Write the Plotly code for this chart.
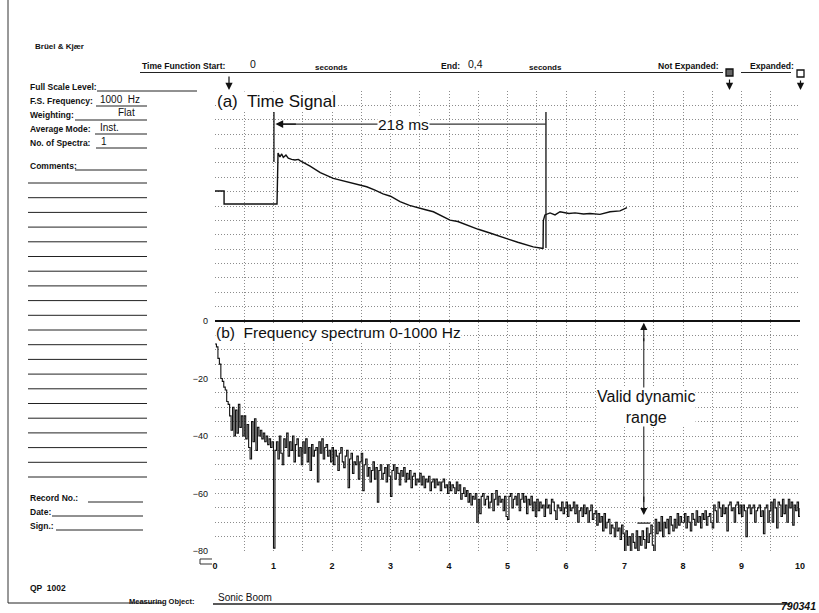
import plotly.graph_objects as go

# ---------------- data ----------------
# (a) time signal: time in seconds (0 .. 0.4 s window), level in chart-grid units
time_s = [0.0, 0.0062, 0.0062, 0.0424, 0.0431, 0.0444, 0.0456, 0.0467, 0.0485, 0.0501,
          0.0524, 0.0547, 0.0570, 0.0581, 0.0650, 0.0720, 0.0809, 0.0860, 0.0923, 0.0980,
          0.1037, 0.1090, 0.1149, 0.1200, 0.1265, 0.1330, 0.1380, 0.1440, 0.1493, 0.1550,
          0.1607, 0.1660, 0.1721, 0.1800, 0.1880, 0.1949, 0.2010, 0.2070, 0.2130, 0.2176,
          0.2234, 0.2243, 0.2245, 0.2256, 0.2291, 0.2325, 0.2359, 0.2420, 0.2462, 0.2520,
          0.2564, 0.2632, 0.2701, 0.2769, 0.2817]
time_level = [45.2, 45.2, 40.7, 40.7, 58.4, 57.1, 58.1, 56.9, 57.7, 56.6,
              56.2, 56.0, 56.2, 55.8, 53.9, 51.6, 49.6, 49.0, 48.3, 47.6,
              46.7, 45.6, 44.2, 43.4, 41.5, 40.2, 39.4, 38.7, 38.0, 36.6,
              35.1, 34.6, 33.4, 31.9, 30.6, 29.3, 28.4, 27.4, 26.5, 25.8,
              25.3, 25.3, 34.9, 36.9, 37.6, 36.9, 38.0, 37.4, 37.6, 37.2,
              37.4, 37.1, 38.0, 38.3, 39.4]

# (b) frequency spectrum 0-1000 Hz, 2.5 Hz bins, level in dB
spectrum_db = [
    -8, -9, -13, -15, -20, -21, -23, -24, -28, -29, -33, -38, -30, -40, -31, -39, -29, -37, -33, -40,
    -33, -41, -36, -44, -48, -35, -42, -34, -45, -37, -40, -38, -41, -39, -42, -40, -43, -41, -44, -42,
    -79, -45, -42, -48, -40, -46, -50, -41, -44, -39, -47, -42, -45, -40, -49, -43, -41, -47, -44, -50,
    -42, -46, -41, -49, -44, -52, -43, -47, -45, -44, -56, -42, -46, -41, -48, -44, -43, -47, -45, -49,
    -44, -50, -45, -47, -52, -46, -44, -49, -51, -47, -45, -58, -48, -46, -53, -49, -50, -47, -55, -49,
    -46, -59, -50, -48, -54, -51, -56, -52, -49, -55, -51, -63, -52, -50, -55, -53, -51, -56, -50, -54,
    -61, -52, -50, -55, -51, -53, -57, -52, -54, -51, -56, -53, -55, -52, -58, -54, -53, -57, -55, -56,
    -53, -57, -54, -58, -55, -56, -54, -59, -56, -55, -58, -55, -57, -56, -59, -56, -55, -58, -57, -60,
    -56, -59, -57, -58, -60, -56, -59, -57, -62, -60, -58, -61, -59, -63, -60, -64, -61, -62, -60, -70,
    -62, -67, -61, -60, -64, -62, -61, -65, -63, -60, -66, -62, -59, -64, -61, -63, -62, -66, -61, -68,
    -69, -61, -60, -65, -62, -61, -64, -60, -66, -62, -60, -63, -61, -67, -62, -64, -61, -66, -63, -68,
    -62, -66, -63, -65, -64, -68, -62, -65, -64, -67, -62, -63, -66, -69, -64, -65, -66, -63, -67, -65,
    -63, -68, -64, -66, -65, -63, -67, -64, -70, -66, -65, -68, -64, -67, -65, -70, -66, -64, -69, -67,
    -66, -71, -67, -70, -68, -73, -67, -72, -70, -69, -74, -71, -72, -75, -70, -73, -72, -76, -71, -74,
    -87, -73, -78, -75, -81, -74, -77, -79, -73, -80, -75, -78, -73, -76, -79, -72, -77, -74, -71, -78,
    -82, -69, -74, -70, -73, -68, -75, -70, -72, -69, -74, -68, -71, -73, -69, -72, -67, -71, -68, -70,
    -70, -67, -72, -68, -70, -73, -67, -69, -71, -66, -70, -68, -72, -67, -69, -66, -71, -68, -67, -70,
    -72, -64, -66, -70, -63, -65, -68, -64, -67, -65, -73, -64, -63, -66, -65, -70, -64, -63, -67, -64,
    -68, -64, -66, -75, -65, -64, -67, -65, -64, -70, -66, -65, -64, -68, -66, -74, -65, -64, -70, -66,
    -63, -70, -62, -65, -72, -63, -64, -68, -62, -67, -64, -70, -62, -65, -63, -71, -64, -66, -63, -68,
    -65]
bin_hz = 2.5
spectrum_hz = [i * bin_hz for i in range(len(spectrum_db))]

x_tick_labels = ["0", "1", "2", "3", "4", "5", "6", "7", "8", "9", "10"]
y_tick_labels = {0: "0", -20: "\u221220", -40: "\u221240", -60: "\u221260", -80: "\u221280"}

# markers / annotations (data space)
marker_start_s, marker_end_s = 0.0403, 0.2263
marker_label_s = 0.129
valid_range_hz = 733

# ---------------- layout geometry ----------------
W, H = 819, 613
L, R, T, B = 215, 19, 91, 62
PW, PH = W - L - R, H - T - B
FONT = "Liberation Sans"


def px(x):
    return (x - L) / PW


def py(y):
    return (H - B - y) / PH


fig = go.Figure()
fig.add_trace(go.Scatter(x=spectrum_hz, y=spectrum_db, xaxis="x", yaxis="y", mode="lines",
                         line=dict(color="#111", width=1.1, shape="hv"), hoverinfo="skip"))
fig.add_trace(go.Scatter(x=time_s, y=time_level, xaxis="x2", yaxis="y", mode="lines",
                         line=dict(color="#111", width=1.4), hoverinfo="skip"))

grid = dict(showgrid=True, gridcolor="#8c8c8c", gridwidth=1, griddash="1px,2px",
            zeroline=False, showline=False, automargin=False)
xt = [i * 50 for i in range(21)]
xtt = [x_tick_labels[v // 100] if v % 100 == 0 else "" for v in xt]
yt = list(range(-80, 81, 5))
ytt = [y_tick_labels.get(v, "") for v in yt]

fig.update_layout(
    width=W, height=H, margin=dict(l=L, r=R, t=T, b=B, pad=0, autoexpand=False),
    paper_bgcolor="white", plot_bgcolor="white", showlegend=False,
    font=dict(family=FONT, color="#111"),
    xaxis=dict(range=[0, 1000], tickvals=xt, ticktext=xtt, ticks="", ticklabelstandoff=8,
               tickfont=dict(size=9, family=FONT, weight="bold"), **grid),
    yaxis=dict(range=[-80, 80], tickvals=yt, ticktext=ytt, ticks="", ticklabelstandoff=6,
               tickfont=dict(size=9, family=FONT), **grid),
    xaxis2=dict(range=[0, 0.4], overlaying="x", anchor="y", visible=False, automargin=False),
)

shapes = []
anns = []

# thick zero line
shapes.append(dict(type="line", xref="paper", yref="y", x0=0, x1=1, y0=0, y1=0,
                   line=dict(color="#111", width=2)))

# 218 ms markers
shapes.append(dict(type="line", xref="x2", yref="y", x0=marker_start_s, x1=marker_start_s,
                   y0=72.7, y1=55.3, line=dict(color="#111", width=1.3)))
shapes.append(dict(type="line", xref="x2", yref="y", x0=marker_end_s, x1=marker_end_s,
                   y0=72.7, y1=25.4, line=dict(color="#111", width=1.3)))
shapes.append(dict(type="line", xref="x2", yref="y", x0=marker_start_s + 0.004, x1=marker_end_s,
                   y0=68.5, y1=68.5, line=dict(color="#333", width=1.2)))
anns.append(dict(xref="x2", yref="y", x=marker_start_s + 0.001, y=68.5, ax=22, ay=0,
                 showarrow=True, arrowhead=2, arrowsize=1.3, arrowwidth=1.2, arrowcolor="#111", text=""))
anns.append(dict(xref="x2", yref="y", x=marker_label_s, y=68.5,
                 text="218 ms", showarrow=False, bgcolor="white", borderpad=0,
                 font=dict(size=15.5, family=FONT, color="#111")))

# valid dynamic range
shapes.append(dict(type="line", xref="x", yref="y", x0=valid_range_hz, x1=valid_range_hz,
                   y0=-6, y1=-63, line=dict(color="#111", width=1)))
shapes.append(dict(type="line", xref="x", yref="y", x0=valid_range_hz - 11, x1=valid_range_hz + 11,
                   y0=-70.3, y1=-70.3, line=dict(color="#111", width=1.2)))
anns.append(dict(xref="x", yref="y", x=valid_range_hz, y=-0.6, ax=0, ay=20, showarrow=True,
                 arrowhead=2, arrowsize=1.3, arrowwidth=1.1, arrowcolor="#111", text=""))
anns.append(dict(xref="x", yref="y", x=valid_range_hz, y=-67.5, ax=0, ay=-20, showarrow=True,
                 arrowhead=2, arrowsize=1.3, arrowwidth=1.1, arrowcolor="#111", text=""))
anns.append(dict(xref="x", yref="y", x=valid_range_hz + 4, y=-29.8, text="Valid dynamic<br>range",
                 showarrow=False, bgcolor="white", borderpad=0, align="center",
                 font=dict(size=16, family=FONT, color="#111")))

# panel titles
anns.append(dict(xref="paper", yref="paper", x=px(216), y=py(101), xanchor="left", yanchor="middle",
                 text="(a)  Time Signal", showarrow=False, bgcolor="white", borderpad=0,
                 font=dict(size=17, family=FONT, color="#111")))
anns.append(dict(xref="paper", yref="paper", x=px(215), y=py(322.5), xanchor="left", yanchor="top",
                 text="(b)  Frequency spectrum 0-1000 Hz", showarrow=False, bgcolor="white", borderpad=0,
                 font=dict(size=15.5, family=FONT, color="#111")))


def txt(s, x, y, size=8, bold=True, anchor="left", italic=False):
    t = "<b>%s</b>" % s if bold else s
    if italic:
        t = "<i>%s</i>" % t
    anns.append(dict(xref="paper", yref="paper", x=px(x), y=py(y), xanchor=anchor, yanchor="middle",
                     text=t, showarrow=False, font=dict(size=size, family=FONT, color="#111")))


def hline(x0, x1, y, w=1):
    shapes.append(dict(type="line", xref="paper", yref="paper", x0=px(x0), x1=px(x1),
                       y0=py(y), y1=py(y), line=dict(color="#222", width=w)))


# header
txt("Brüel & Kjær", 33, 46, 8)
txt("Time Function Start:", 140, 66, 8.6)
txt("0", 253, 64, 10.5, bold=False, anchor="center")
txt("seconds", 313, 67, 8)
txt("End:", 439, 66, 8.6)
txt("0,4", 466, 64, 10.5, bold=False)
txt("seconds", 527, 67, 8)
txt("Not Expanded:", 656, 66, 8.6)
txt("Expanded:", 748, 66, 8.6)
hline(140, 723, 72.5, 1.2)
hline(741, 791, 72.5, 1.2)
shapes.append(dict(type="rect", xref="paper", yref="paper", x0=px(726), x1=px(733), y0=py(69), y1=py(76),
                   line=dict(color="#111", width=1.3), fillcolor="#666"))
shapes.append(dict(type="rect", xref="paper", yref="paper", x0=px(797), x1=px(804), y0=py(70), y1=py(77),
                   line=dict(color="#111", width=1.3), fillcolor="white"))
for ax_x, top in [(229, 75), (729.5, 78), (800.5, 79)]:
    anns.append(dict(xref="paper", yref="paper", x=px(ax_x), y=py(90), ax=0, ay=-(90 - top),
                     showarrow=True, arrowhead=2, arrowsize=1.2, arrowwidth=1.2, arrowcolor="#111", text=""))

# left form
FS = 8.5
txt("Full Scale Level:", 28, 87, FS)
hline(97, 197, 91)
txt("F.S. Frequency:", 28, 101, FS)
txt("1000  Hz", 98, 99, 10, bold=False)
hline(96, 147, 106)
txt("Weighting:", 28, 115, FS)
txt("Flat", 116, 113, 10, bold=False)
hline(75, 147, 120)
txt("Average Mode:", 28, 129, FS)
txt("Inst.", 98, 127, 10, bold=False)
hline(95, 147, 134)
txt("No. of Spectra:", 28, 143, FS)
txt("1", 99, 141, 10, bold=False)
hline(96, 147, 148)
txt("Comments:", 28, 166, FS)
hline(75, 147, 170)
n_lines = 21
for i in range(n_lines):
    hline(28, 147, 183 + i * (477 - 183) / (n_lines - 1))
txt("Record No.:", 28, 498, FS)
hline(88, 143, 502)
txt("Date:", 28, 512, FS)
hline(52, 143, 516)
txt("Sign.:", 28, 526, FS)
hline(56, 143, 530)
txt("QP  1002", 28, 588, 8.5)

# frame lines
shapes.append(dict(type="line", xref="paper", yref="paper", x0=px(8), x1=px(8), y0=py(0), y1=py(603),
                   line=dict(color="#333", width=1)))
hline(8, 163, 603)
txt("Measuring Object:", 127, 601, 7.5)
txt("Sonic Boom", 216, 597, 10, bold=False)
hline(213, 790, 604, 1.3)
txt("790341", 818, 606, 10.5, bold=True, anchor="right", italic=True)

# small bracket symbol under -80
shapes.append(dict(type="path", xref="paper", yref="paper",
                   path="M %f %f L %f %f L %f %f L %f %f" % (px(212), py(559), px(200), py(559),
                                                          px(200), py(564), px(212), py(564)),
                   line=dict(color="#333", width=1)))

fig.update_layout(shapes=shapes, annotations=anns)
fig.write_html("out.html", config={"displayModeBar": False},
               post_script="document.body.style.margin='0';document.body.style.overflow='hidden';")
